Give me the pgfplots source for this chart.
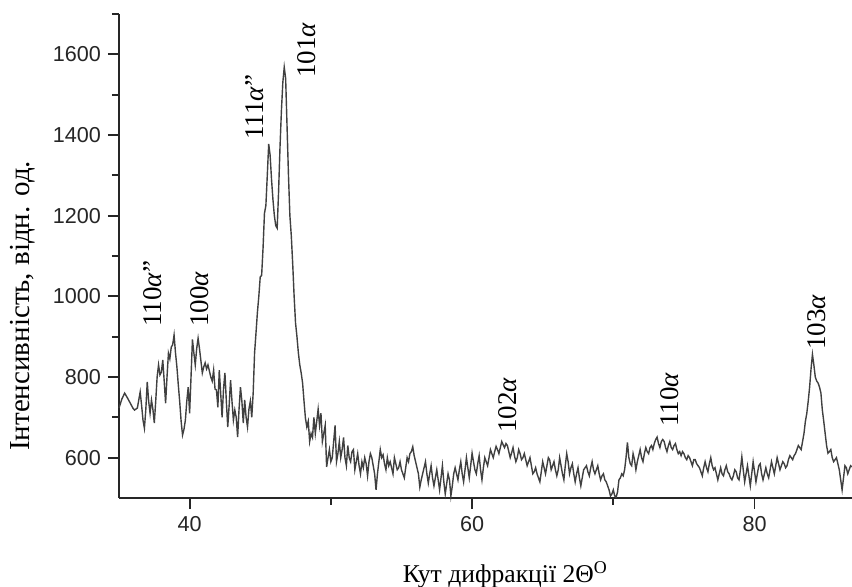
\documentclass[border=0pt]{standalone}
\usepackage{fontspec}
\setmainfont{Liberation Serif}
\newfontfamily\tickfont{Liberation Sans}
\usepackage{pgfplots}
\pgfplotsset{compat=1.18}
\begin{document}
\begin{tikzpicture}
\useasboundingbox (-59.5pt,-44.5pt) rectangle (366.5pt,249pt);
\begin{axis}[
  at={(0,0)}, anchor=south west,
  scale only axis, width=366.5pt, height=242pt,
  xmin=35, xmax=86.9, ymin=500, ymax=1700,
  axis lines=left,
  axis line style={-, line width=0.9pt, black!85},
  xtick={40,60,80}, minor xtick={50,70},
  ytick={600,800,1000,1200,1400,1600},
  minor ytick={700,900,1100,1300,1500,1700},
  tick align=outside,
  major tick length=5.5pt, minor tick length=3.5pt,
  every tick/.style={line width=0.9pt, black!85},
  /pgf/number format/assume math mode=true,
  /pgf/number format/1000 sep={},
  tick label style={font=\tickfont\fontsize{10.8}{12}\selectfont, text=black!85},
  xlabel={Кут дифракції 2Θ\textsuperscript{O}},
  ylabel={Інтенсивність, відн. од.},
  x label style={at={(axis description cs:0.527,-0.1736)}, anchor=base, font=\fontsize{12.8}{14}\selectfont},
  y label style={at={(axis description cs:-0.131,0.397)}, anchor=center, font=\fontsize{14.5}{16}\selectfont},
  clip=false,
]
\addplot[black!75, line width=0.7pt] coordinates {
(35.0,723)(35.2,745)(35.4,760)(35.6,748)(35.8,735)(36.0,722)(36.1,718)(36.3,723)(36.5,763)(36.6,730)
(36.7,693)(36.8,673)(36.9,720)(37.0,788)(37.1,740)(37.2,710)(37.3,743)(37.4,720)(37.5,686)(37.6,740)
(37.7,800)(37.8,830)(37.9,805)(38.0,812)(38.1,842)(38.2,790)(38.3,735)(38.4,800)(38.5,859)(38.6,845)
(38.7,874)(38.8,880)(38.9,904)(39.0,860)(39.1,825)(39.2,780)(39.3,738)(39.4,690)(39.5,656)(39.6,670)
(39.7,693)(39.8,740)(39.9,775)(40.0,710)(40.1,800)(40.2,893)(40.3,860)(40.4,830)(40.5,870)(40.6,896)
(40.7,870)(40.8,840)(40.9,810)(41.0,825)(41.1,835)(41.2,820)(41.3,830)(41.4,815)(41.5,800)(41.6,790)
(41.7,817)(41.8,770)(41.9,768)(42.0,725)(42.1,817)(42.2,760)(42.3,700)(42.4,770)(42.5,810)(42.6,740)
(42.7,676)(42.8,730)(42.9,792)(43.0,740)(43.1,693)(43.2,718)(43.3,700)(43.4,651)(43.5,720)(43.6,775)
(43.7,740)(43.8,686)(43.9,743)(44.0,700)(44.1,676)(44.2,720)(44.3,740)(44.4,700)(44.5,760)(44.6,860)
(44.7,909)(44.8,960)(44.9,1000)(45.0,1048)(45.1,1052)(45.2,1120)(45.3,1206)(45.4,1225)(45.5,1300)(45.6,1378)
(45.7,1350)(45.8,1290)(45.9,1240)(46.0,1200)(46.1,1175)(46.2,1169)(46.3,1260)(46.4,1370)(46.5,1460)(46.6,1530)
(46.7,1568)(46.8,1540)(46.9,1420)(47.0,1300)(47.1,1200)(47.2,1150)(47.3,1080)(47.4,1000)(47.5,934)(47.6,900)
(47.7,860)(47.8,830)(47.9,810)(48.0,785)(48.1,740)(48.2,698)(48.3,676)(48.4,690)(48.5,640)(48.6,660)
(48.7,650)(48.8,700)(48.9,660)(49.0,690)(49.1,720)(49.2,680)(49.3,710)(49.4,640)(49.5,660)(49.6,680)
(49.7,577)(49.8,600)(49.9,620)(50.0,590)(50.1,600)(50.2,640)(50.3,680)(50.4,590)(50.5,610)(50.6,640)
(50.7,600)(50.8,620)(50.9,650)(51.0,600)(51.1,580)(51.2,630)(51.3,600)(51.4,590)(51.5,615)(51.6,620)
(51.7,570)(51.8,590)(51.9,610)(52.0,580)(52.1,560)(52.2,590)(52.3,575)(52.4,600)(52.5,585)(52.6,555)
(52.7,590)(52.8,610)(52.9,600)(53.0,580)(53.1,560)(53.2,520)(53.3,560)(53.4,590)(53.5,620)(53.6,600)
(53.7,607)(53.8,585)(53.9,570)(54.0,600)(54.1,580)(54.2,590)(54.3,575)(54.4,560)(54.5,600)(54.6,585)
(54.7,570)(54.8,575)(54.9,590)(55.0,570)(55.1,560)(55.2,550)(55.3,575)(55.4,600)(55.5,590)(55.6,610)
(55.7,615)(55.8,627)(55.9,605)(56.0,590)(56.1,575)(56.2,560)(56.3,527)(56.4,545)(56.5,560)(56.6,575)
(56.7,590)(56.8,560)(56.9,537)(57.0,560)(57.1,580)(57.2,550)(57.3,530)(57.4,550)(57.5,570)(57.6,545)
(57.7,520)(57.8,550)(57.9,580)(58.0,540)(58.1,510)(58.2,535)(58.3,560)(58.4,545)(58.5,505)(58.6,530)
(58.7,560)(58.8,575)(58.9,560)(59.0,545)(59.1,570)(59.2,590)(59.3,560)(59.4,540)(59.5,570)(59.6,600)
(59.7,575)(59.8,550)(59.9,580)(60.0,611)(60.1,590)(60.2,570)(60.3,560)(60.4,585)(60.5,605)(60.6,570)
(60.7,545)(60.8,575)(60.9,600)(61.0,590)(61.1,580)(61.2,600)(61.3,620)(61.4,610)(61.5,600)(61.6,615)
(61.7,628)(61.8,620)(61.9,610)(62.0,625)(62.1,640)(62.2,632)(62.3,625)(62.4,635)(62.5,630)(62.6,615)
(62.7,600)(62.8,612)(62.9,625)(63.0,605)(63.1,590)(63.2,600)(63.3,620)(63.4,610)(63.5,595)(63.6,600)
(63.7,610)(63.8,595)(63.9,580)(64.0,590)(64.1,600)(64.2,580)(64.3,560)(64.4,565)(64.5,575)(64.6,560)
(64.7,550)(64.8,540)(64.9,565)(65.0,590)(65.1,575)(65.2,560)(65.3,580)(65.4,600)(65.5,594)(65.6,570)
(65.7,580)(65.8,590)(65.9,570)(66.0,555)(66.1,570)(66.2,600)(66.3,580)(66.4,560)(66.5,545)(66.6,580)
(66.7,610)(66.8,590)(66.9,560)(67.0,575)(67.1,585)(67.2,560)(67.3,540)(67.4,560)(67.5,575)(67.6,550)
(67.7,530)(67.8,550)(67.9,570)(68.0,575)(68.1,580)(68.2,565)(68.3,555)(68.4,575)(68.5,590)(68.6,570)
(68.7,560)(68.8,570)(68.9,580)(69.0,560)(69.1,545)(69.2,555)(69.3,560)(69.4,545)(69.5,540)(69.6,530)
(69.7,520)(69.8,505)(69.9,510)(70.0,520)(70.1,505)(70.2,502)(70.3,515)(70.4,545)(70.5,550)(70.6,560)
(70.7,555)(70.8,570)(70.9,600)(71.0,638)(71.1,600)(71.2,585)(71.3,580)(71.4,610)(71.5,595)(71.6,570)
(71.7,590)(71.8,605)(71.9,620)(72.0,600)(72.1,590)(72.2,610)(72.3,625)(72.4,615)(72.5,610)(72.6,625)
(72.7,630)(72.8,620)(72.9,635)(73.0,645)(73.1,651)(73.2,635)(73.3,625)(73.4,640)(73.5,645)(73.6,640)
(73.7,625)(73.8,615)(73.9,630)(74.0,640)(74.1,625)(74.2,620)(74.3,630)(74.4,635)(74.5,620)(74.6,610)
(74.7,615)(74.8,605)(74.9,615)(75.0,610)(75.1,600)(75.2,595)(75.3,605)(75.4,600)(75.5,590)(75.6,580)
(75.7,595)(75.8,595)(75.9,585)(76.0,580)(76.1,575)(76.2,565)(76.3,555)(76.4,575)(76.5,590)(76.6,575)
(76.7,565)(76.8,585)(76.9,600)(77.0,580)(77.1,570)(77.2,575)(77.3,560)(77.4,545)(77.5,560)(77.6,575)
(77.7,560)(77.8,555)(77.9,570)(78.0,580)(78.1,565)(78.2,560)(78.3,550)(78.4,545)(78.5,555)(78.6,570)
(78.7,565)(78.8,550)(78.9,545)(79.0,570)(79.1,602)(79.2,570)(79.3,540)(79.4,560)(79.5,580)(79.6,555)
(79.7,530)(79.8,560)(79.9,590)(80.0,565)(80.1,540)(80.2,560)(80.3,580)(80.4,585)(80.5,560)(80.6,545)
(80.7,560)(80.8,575)(80.9,560)(81.0,550)(81.1,570)(81.2,590)(81.3,575)(81.4,560)(81.5,580)(81.6,600)
(81.7,585)(81.8,570)(81.9,580)(82.0,590)(82.1,585)(82.2,575)(82.3,580)(82.4,595)(82.5,605)(82.6,600)
(82.7,595)(82.8,605)(82.9,610)(83.0,620)(83.1,630)(83.2,625)(83.3,620)(83.4,640)(83.5,660)(83.6,690)
(83.7,710)(83.8,740)(83.9,775)(84.0,820)(84.1,856)(84.2,830)(84.3,800)(84.4,790)(84.5,785)(84.6,775)
(84.7,760)(84.8,718)(84.9,690)(85.0,660)(85.1,630)(85.2,611)(85.3,615)(85.4,620)(85.5,600)(85.6,590)
(85.7,595)(85.8,600)(85.9,585)(86.0,570)(86.1,545)(86.2,520)(86.3,550)(86.4,580)(86.5,575)(86.6,560)
(86.7,570)(86.8,580)(86.9,577)
};
\begin{scope}[every node/.style={rotate=90, anchor=west, inner sep=0pt, font=\fontsize{13.5}{15}\selectfont}]
\node at (axis cs:37.4,924) {110\textit{α}''};
\node at (axis cs:40.7,924) {100\textit{α}};
\node at (axis cs:44.6,1387) {111\textit{α}''};
\node at (axis cs:48.3,1541) {101\textit{α}};
\node at (axis cs:62.5,661) {102\textit{α}};
\node at (axis cs:74.0,676) {110\textit{α}};
\node at (axis cs:84.4,867) {103\textit{α}};
\end{scope}
\end{axis}
\end{tikzpicture}
\end{document}
